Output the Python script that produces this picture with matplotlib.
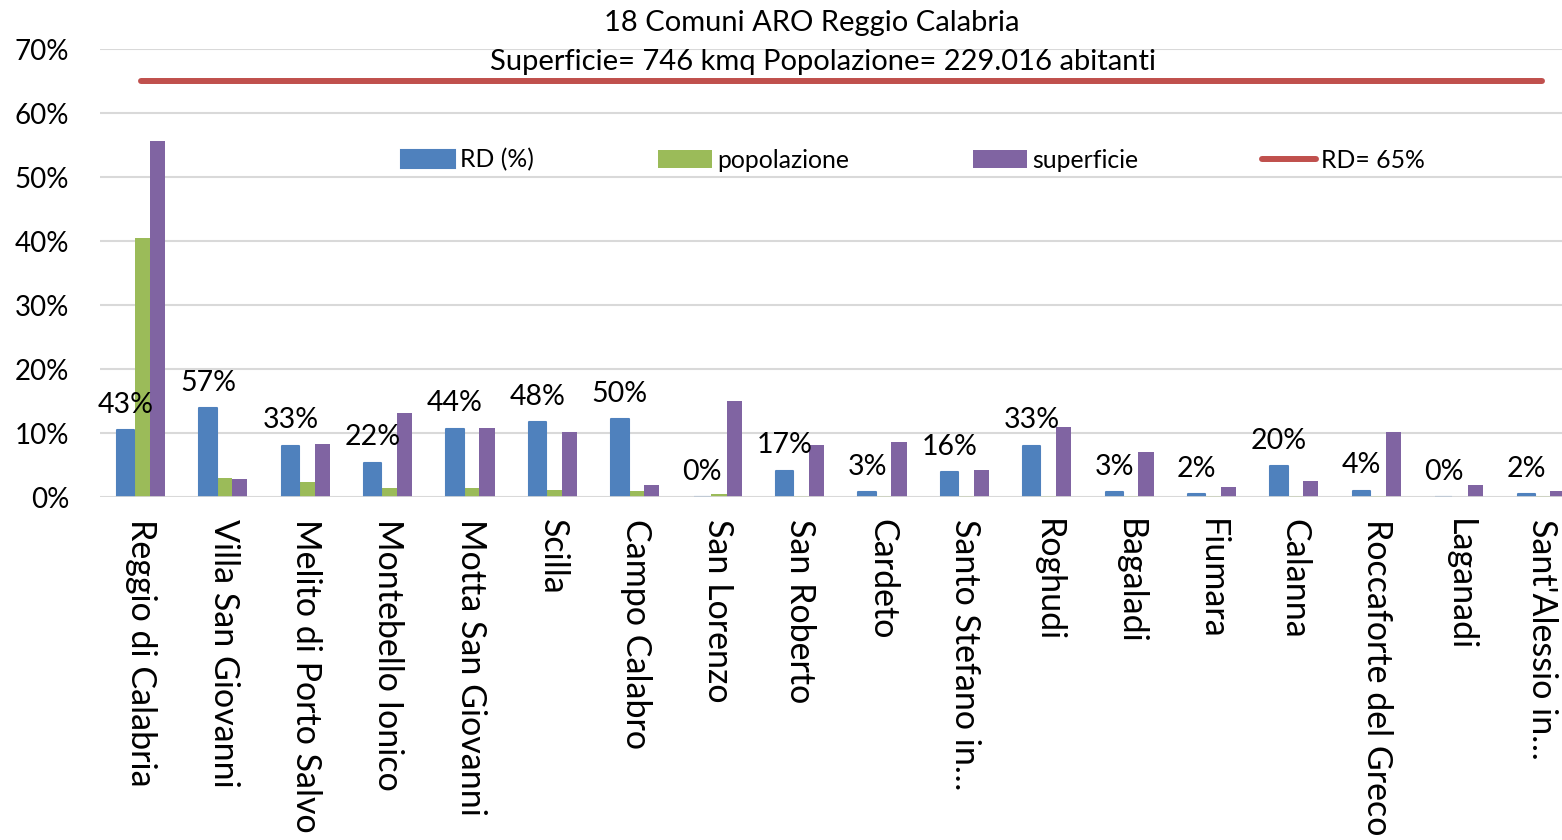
import matplotlib
matplotlib.use('Agg')
import matplotlib.pyplot as plt
from matplotlib.ticker import PercentFormatter
import numpy as np

plt.rcParams['font.family'] = ['Lato', 'DejaVu Sans']

# comuni dell'ARO Reggio Calabria
comuni = ['Reggio di Calabria', 'Villa San Giovanni', 'Melito di Porto Salvo',
          'Montebello Ionico', 'Motta San Giovanni', 'Scilla', 'Campo Calabro',
          'San Lorenzo', 'San Roberto', 'Cardeto', 'Santo Stefano in…',
          'Roghudi', 'Bagaladi', 'Fiumara', 'Calanna', 'Roccaforte del Greco',
          'Laganadi', "Sant'Alessio in…"]
# raccolta differenziata (%)
rd = [43, 57, 33, 22, 44, 48, 50, 0, 17, 3, 16, 33, 3, 2, 20, 4, 0, 2]
# quota sul totale ARO (%)
popolazione = [40.5, 3.0, 2.3, 1.4, 1.4, 1.1, 0.9, 0.5, 0.2, 0.2, 0.15, 0.1,
               0.1, 0.1, 0.1, 0.1, 0.05, 0.1]
superficie = [55.6, 2.8, 8.3, 13.1, 10.8, 10.2, 1.9, 15.0, 8.1, 8.6, 4.2, 10.9,
              7.0, 1.6, 2.5, 10.2, 1.9, 0.9]
obiettivo_rd = 65

blu = '#4F81BD'
verde = '#9BBB59'
viola = '#8064A2'
rosso = '#C0504D'
griglia = '#D9D9D9'

x = np.arange(len(comuni))

fig = plt.figure(figsize=(15.62, 8.4), dpi=100)
W, H = 1562, 840
ax = fig.add_axes([100 / W, (H - 497) / H, 1483 / W, 448 / H])

# asse principale: popolazione e superficie
ax.bar(x + 0.012, popolazione, width=0.185, color=verde, zorder=2, label='popolazione')
ax.bar(x + 0.197, superficie, width=0.185, color=viola, zorder=2, label='superficie')
linea, = ax.plot([x[0], x[-1]], [obiettivo_rd, obiettivo_rd], color=rosso, lw=4.3,
                 solid_capstyle='round', zorder=3, label='RD= 65%')

ax.set_xlim(-0.5, len(comuni) - 0.5)
ax.set_ylim(0, 70)
ax.set_yticks(np.arange(0, 71, 10))
ax.yaxis.set_major_formatter(PercentFormatter(decimals=0))
ax.yaxis.grid(True, color=griglia, lw=1.5, zorder=0)
ax.set_axisbelow(True)
ax.set_xticks(x)
ax.set_xticklabels(comuni, rotation=-90, fontsize=24.5)
ax.tick_params(axis='both', length=0)
ax.tick_params(axis='x', pad=16)
ax.tick_params(axis='y', pad=22, labelsize=20)
for s in ax.spines.values():
    s.set_visible(False)

# asse secondario per la RD
ax2 = ax.twinx()
ax2.set_ylim(0, 288)
barre_rd = ax2.bar(x - 0.19, rd, width=0.21, color=blu, edgecolor=blu, lw=1.5,
                   joinstyle='round', zorder=2, label='RD (%)')
ax2.axhline(0, color=griglia, lw=1.2, zorder=3)
for xi, v in zip(x, rd):
    ax2.annotate(f'{v}%', (xi - 0.19, v), xytext=(0, 12.5), textcoords='offset points',
                 ha='center', va='baseline', fontsize=20.5, zorder=4)
ax2.set_yticks([])
ax2.tick_params(length=0)
for s in ax2.spines.values():
    s.set_visible(False)

h1, l1 = ax.get_legend_handles_labels()
h2, l2 = ax2.get_legend_handles_labels()
fig.legend(h2 + h1[1:] + h1[:1], l2 + l1[1:] + l1[:1], loc='center', ncol=4,
           bbox_to_anchor=(913 / W, (H - 160) / H), frameon=False, fontsize=17.8,
           handlelength=2.2, handleheight=0.75, handletextpad=0.2, columnspacing=5.0)

fig.text(812 / W, (H - 23) / H, '18 Comuni ARO Reggio Calabria', ha='center',
         va='center', fontsize=21)
fig.text(823 / W, (H - 62) / H, 'Superficie= 746 kmq Popolazione= 229.016 abitanti',
         ha='center', va='center', fontsize=21)

fig.savefig('out.png', dpi=100)
